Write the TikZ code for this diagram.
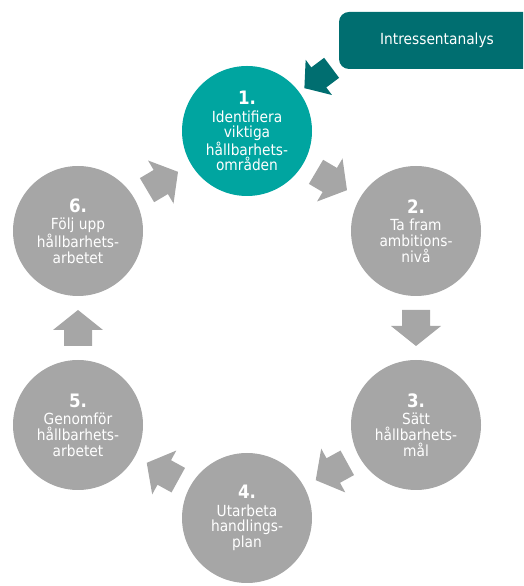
\documentclass[tikz,border=0pt]{standalone}
\usepackage{fontspec}
\setmainfont[FakeStretch=0.9]{DejaVu Sans}
\usetikzlibrary{calc}

\definecolor{phaseteal}{RGB}{0,165,160}
\definecolor{boxteal}{RGB}{0,110,112}
\definecolor{phasegray}{RGB}{166,166,166}

\tikzset{
  phase/.style={circle, fill=phasegray, minimum size=130pt, inner sep=0pt,
    align=center, text=white, font=\fontsize{15.3}{15.6}\selectfont},
  activephase/.style={phase, fill=phaseteal},
  inputbox/.style={rounded corners=10pt, fill=boxteal, text=white,
    minimum width=196pt, minimum height=57pt, inner sep=0pt,
    font=\fontsize{15.3}{16}\selectfont},
  grayhead/.pic={\fill[phasegray] (-18,-14) -- (-2,-14) -- (-2,-25) -- (18,0)
    -- (-2,25) -- (-2,14) -- (-18,14) -- cycle;},
  tealhead/.pic={\fill[boxteal] (-17,-12.5) -- (-1,-12.5) -- (-1,-22) -- (17,0)
    -- (-1,22) -- (-1,12.5) -- (-17,12.5) -- cycle;},
}

% step number above the step text
\newcommand\stepnum[1]{{\fontsize{18.5}{18}\selectfont\bfseries #1}\\[2pt]}

% block arrow #1 placed at #2, pointing from node #3 towards node #4
\newcommand\flowarrow[4]{%
  \pgfmathanglebetweenpoints{\pgfpointanchor{#3}{center}}{\pgfpointanchor{#4}{center}}%
  \edef\flowangle{\pgfmathresult}%
  \path (#2) pic[rotate=\flowangle] {#1};}

\begin{document}
\begin{tikzpicture}[x=1pt, y=1pt]
  \useasboundingbox (0,0) rectangle (523,586);
  \clip (0,0) rectangle (523,586);

  % the six steps of the cycle
  \node[activephase] (c1) at (247,455) {\stepnum{1.}Identifiera\\viktiga\\hållbarhets-\\områden};
  \node[phase] (c2) at (416,355) {\stepnum{2.}Ta fram\\ambitions-\\nivå};
  \node[phase] (c3) at (416,161) {\stepnum{3.}Sätt\\hållbarhets-\\mål};
  \node[phase] (c4) at (247,68)  {\stepnum{4.}Utarbeta\\handlings-\\plan};
  \node[phase] (c5) at (78,161)  {\stepnum{5.}Genomför\\hållbarhets-\\arbetet};
  \node[phase] (c6) at (78,355)  {\stepnum{6.}Följ upp\\hållbarhets-\\arbetet};

  % stakeholder analysis feeding step 1
  \node[inputbox] (ia) at (437,545.5) {Intressentanalys};
  \coordinate (iain) at (318,508);

  % arrows between the steps
  \flowarrow{grayhead}{$(c1)!0.5!(c2)$}{c1}{c2}
  \flowarrow{grayhead}{$(c2)!0.5!(c3)$}{c2}{c3}
  \flowarrow{grayhead}{$(c3)!0.5!(c4)$}{c3}{c4}
  \flowarrow{grayhead}{$(c4)!0.5!(c5)$}{c4}{c5}
  \flowarrow{grayhead}{$(c5)!0.5!(c6)$}{c5}{c6}
  \flowarrow{grayhead}{$(c6)!0.5!(c1)$}{c6}{c1}
  \flowarrow{tealhead}{iain}{iain}{c1}
\end{tikzpicture}
\end{document}
